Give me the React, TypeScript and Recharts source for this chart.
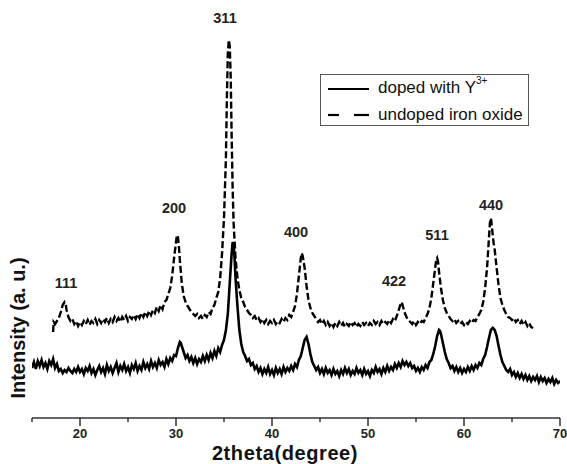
import React from "react";
import { LineChart, Line, XAxis, YAxis } from "recharts";

// doped with Y3+ (solid, lower trace): 2theta (deg) and intensity (a.u.)
const dopedDeg = [
  15.0, 15.2, 15.4, 15.6, 15.8, 16.0, 16.2, 16.4, 16.6, 16.8, 17.0, 17.2, 17.4, 17.6, 17.8, 18.0, 18.2, 18.4, 18.6, 18.8,
  19.0, 19.2, 19.4, 19.6, 19.8, 20.0, 20.2, 20.4, 20.6, 20.8, 21.0, 21.2, 21.4, 21.6, 21.8, 22.0, 22.2, 22.4, 22.6, 22.8,
  23.0, 23.2, 23.4, 23.6, 23.8, 24.0, 24.2, 24.4, 24.6, 24.8, 25.0, 25.2, 25.4, 25.6, 25.8, 26.0, 26.2, 26.4, 26.6, 26.8,
  27.0, 27.2, 27.4, 27.6, 27.8, 28.0, 28.2, 28.4, 28.6, 28.8, 29.0, 29.2, 29.4, 29.6, 29.8, 30.0, 30.2, 30.4, 30.5, 30.6,
  30.8, 31.0, 31.2, 31.4, 31.6, 31.8, 32.0, 32.2, 32.4, 32.6, 32.8, 33.0, 33.2, 33.4, 33.6, 33.8, 34.0, 34.2, 34.4, 34.6,
  34.8, 35.0, 35.2, 35.4, 35.6, 35.8, 35.9, 36.0, 36.1, 36.2, 36.4, 36.6, 36.8, 37.0, 37.2, 37.4, 37.6, 37.8, 38.0, 38.2,
  38.4, 38.6, 38.8, 39.0, 39.2, 39.4, 39.6, 39.8, 40.0, 40.2, 40.4, 40.6, 40.8, 41.0, 41.2, 41.4, 41.6, 41.8, 42.0, 42.2,
  42.4, 42.6, 42.8, 43.0, 43.2, 43.4, 43.6, 43.8, 44.0, 44.2, 44.4, 44.6, 44.8, 45.0, 45.2, 45.4, 45.6, 45.8, 46.0, 46.2,
  46.4, 46.6, 46.8, 47.0, 47.2, 47.4, 47.6, 47.8, 48.0, 48.2, 48.4, 48.6, 48.8, 49.0, 49.2, 49.4, 49.6, 49.8, 50.0, 50.2,
  50.4, 50.6, 50.8, 51.0, 51.2, 51.4, 51.6, 51.8, 52.0, 52.2, 52.4, 52.6, 52.8, 53.0, 53.2, 53.4, 53.6, 53.8, 54.0, 54.2,
  54.4, 54.6, 54.8, 55.0, 55.2, 55.4, 55.6, 55.8, 56.0, 56.2, 56.4, 56.6, 56.8, 57.0, 57.2, 57.4, 57.5, 57.6, 57.8, 58.0,
  58.2, 58.4, 58.6, 58.8, 59.0, 59.2, 59.4, 59.6, 59.8, 60.0, 60.2, 60.4, 60.6, 60.8, 61.0, 61.2, 61.4, 61.6, 61.8, 62.0,
  62.2, 62.4, 62.6, 62.8, 63.0, 63.2, 63.4, 63.6, 63.8, 64.0, 64.2, 64.4, 64.6, 64.8, 65.0, 65.2, 65.4, 65.6, 65.8, 66.0,
  66.2, 66.4, 66.6, 66.8, 67.0, 67.2, 67.4, 67.6, 67.8, 68.0, 68.2, 68.4, 68.6, 68.8, 69.0, 69.2, 69.4, 69.6, 69.8, 70.0,
];
const dopedIntensity = [
  50, 56, 49, 57, 52, 58, 51, 55, 49, 57, 53, 59, 50, 54, 47, 49, 45, 48, 46, 50,
  47, 45, 49, 46, 51, 46, 49, 44, 50, 47, 52, 45, 49, 43, 48, 52, 46, 50, 44, 53,
  47, 51, 45, 50, 55, 46, 52, 48, 54, 47, 51, 45, 53, 49, 55, 47, 52, 48, 56, 50,
  54, 49, 57, 51, 55, 50, 58, 53, 56, 51, 59, 54, 60, 57, 63, 62, 70, 76, 75, 72,
  66, 60, 63, 57, 61, 55, 60, 54, 59, 56, 62, 57, 63, 58, 65, 60, 67, 62, 70, 66,
  73, 78, 88, 104, 135, 165, 176, 172, 160, 140, 112, 88, 74, 66, 62, 57, 59, 53, 55, 49,
  52, 46, 50, 44, 49, 45, 51, 44, 48, 43, 50, 45, 49, 44, 51, 46, 50, 47, 52, 48,
  54, 51, 58, 62, 70, 78, 81, 74, 64, 56, 52, 48, 51, 45, 49, 44, 50, 45, 48, 43,
  49, 44, 47, 42, 48, 44, 50, 45, 49, 43, 47, 44, 50, 45, 48, 43, 49, 44, 47, 42,
  48, 45, 51, 46, 49, 44, 50, 46, 52, 47, 51, 48, 54, 50, 55, 51, 57, 53, 56, 52,
  55, 50, 52, 47, 50, 46, 51, 48, 53, 50, 56, 58, 64, 72, 82, 88, 87, 84, 75, 66,
  59, 55, 50, 52, 47, 51, 46, 50, 45, 49, 46, 51, 47, 52, 48, 53, 50, 55, 53, 59,
  63, 71, 80, 88, 90, 88, 82, 72, 63, 56, 52, 48, 46, 49, 43, 46, 41, 45, 40, 44,
  39, 43, 38, 42, 37, 41, 38, 42, 36, 41, 37, 40, 35, 39, 36, 40, 34, 38, 35, 37,
];

// undoped iron oxide (dashed, upper trace)
const undopedDeg = [
  17.2, 17.25, 17.4, 17.6, 17.8, 18.0, 18.2, 18.4, 18.5, 18.6, 18.8, 19.0, 19.2, 19.4, 19.6, 19.8, 20.0, 20.2, 20.4, 20.6,
  20.8, 21.0, 21.2, 21.4, 21.6, 21.8, 22.0, 22.2, 22.4, 22.6, 22.8, 23.0, 23.2, 23.4, 23.6, 23.8, 24.0, 24.2, 24.4, 24.6,
  24.8, 25.0, 25.2, 25.4, 25.6, 25.8, 26.0, 26.2, 26.4, 26.6, 26.8, 27.0, 27.2, 27.4, 27.6, 27.8, 28.0, 28.2, 28.4, 28.6,
  28.8, 29.0, 29.2, 29.4, 29.6, 29.8, 30.0, 30.1, 30.2, 30.3, 30.4, 30.6, 30.8, 31.0, 31.2, 31.4, 31.6, 31.8, 32.0, 32.2,
  32.4, 32.6, 32.8, 33.0, 33.2, 33.4, 33.6, 33.8, 34.0, 34.2, 34.4, 34.6, 34.8, 35.0, 35.2, 35.3, 35.4, 35.5, 35.6, 35.7,
  35.8, 35.9, 36.0, 36.2, 36.4, 36.6, 36.8, 37.0, 37.2, 37.4, 37.6, 37.8, 38.0, 38.2, 38.4, 38.6, 38.8, 39.0, 39.2, 39.4,
  39.6, 39.8, 40.0, 40.2, 40.4, 40.6, 40.8, 41.0, 41.2, 41.4, 41.6, 41.8, 42.0, 42.2, 42.4, 42.6, 42.8, 43.0, 43.1, 43.2,
  43.4, 43.6, 43.8, 44.0, 44.2, 44.4, 44.6, 44.8, 45.0, 45.2, 45.4, 45.6, 45.8, 46.0, 46.2, 46.4, 46.6, 46.8, 47.0, 47.2,
  47.4, 47.6, 47.8, 48.0, 48.2, 48.4, 48.6, 48.8, 49.0, 49.2, 49.4, 49.6, 49.8, 50.0, 50.2, 50.4, 50.6, 50.8, 51.0, 51.2,
  51.4, 51.6, 51.8, 52.0, 52.2, 52.4, 52.6, 52.8, 53.0, 53.2, 53.4, 53.5, 53.6, 53.8, 54.0, 54.2, 54.4, 54.6, 54.8, 55.0,
  55.2, 55.4, 55.6, 55.8, 56.0, 56.2, 56.4, 56.6, 56.8, 57.0, 57.1, 57.2, 57.3, 57.4, 57.6, 57.8, 58.0, 58.2, 58.4, 58.6,
  58.8, 59.0, 59.2, 59.4, 59.6, 59.8, 60.0, 60.2, 60.4, 60.6, 60.8, 61.0, 61.2, 61.4, 61.6, 61.8, 62.0, 62.2, 62.4, 62.6,
  62.7, 62.8, 62.9, 63.0, 63.1, 63.2, 63.4, 63.6, 63.8, 64.0, 64.2, 64.4, 64.6, 64.8, 65.0, 65.2, 65.4, 65.6, 65.8, 66.0,
  66.2, 66.4, 66.6, 66.8, 67.0, 67.2,
];
const undopedIntensity = [
  86, 96, 94, 97, 100, 106, 113, 116, 115, 108, 101, 97, 99, 94, 97, 92, 96, 93, 97, 94,
  98, 93, 97, 95, 99, 94, 98, 95, 99, 96, 100, 95, 99, 96, 101, 97, 100, 96, 101, 98,
  102, 97, 101, 99, 103, 99, 104, 100, 105, 101, 106, 102, 107, 103, 108, 105, 111, 107, 113, 109,
  116, 118, 124, 130, 142, 160, 176, 183, 181, 172, 158, 135, 122, 116, 112, 109, 106, 104, 102, 104,
  100, 102, 99, 103, 101, 106, 104, 110, 113, 120, 126, 140, 165, 200, 260, 320, 365, 378, 372, 340,
  280, 230, 195, 160, 140, 128, 120, 116, 111, 108, 105, 103, 100, 102, 98, 100, 96, 99, 95, 98,
  94, 97, 95, 98, 94, 97, 95, 99, 96, 100, 98, 103, 101, 106, 112, 124, 142, 160, 165, 162,
  150, 132, 118, 110, 105, 102, 99, 96, 98, 94, 97, 93, 96, 92, 95, 91, 95, 92, 96, 92,
  95, 91, 94, 92, 96, 93, 95, 91, 94, 92, 96, 93, 95, 92, 95, 93, 97, 94, 96, 93,
  97, 94, 96, 94, 98, 95, 99, 97, 102, 108, 114, 116, 113, 106, 101, 98, 96, 94, 97, 93,
  96, 94, 97, 96, 100, 104, 110, 120, 135, 150, 158, 160, 156, 146, 130, 118, 110, 105, 102, 99,
  97, 99, 95, 97, 94, 96, 93, 96, 94, 97, 95, 98, 97, 101, 104, 108, 116, 130, 150, 180,
  195, 200, 192, 182, 174, 168, 150, 133, 120, 113, 108, 104, 101, 100, 98, 100, 96, 98, 94, 97,
  93, 96, 92, 95, 91, 90,
];

const xTicks = [15, 20, 25, 30, 35, 40, 45, 50, 55, 60, 65, 70];

const peakLabels = ["111", "200", "311", "400", "422", "511", "440"];
const peakLabelPos = [
  [66, 283], [174, 208], [225, 18], [296, 232], [394, 281], [437, 235], [491, 205],
];

const seriesNames = ["doped with Y", "undoped iron oxide"];

const doped = dopedDeg.map((x, i) => ({ x, y: dopedIntensity[i] }));
const undoped = undopedDeg.map((x, i) => ({ x, y: undopedIntensity[i] }));

const FONT = '"Liberation Sans", Arial, sans-serif';

const Tick = (props: any) => {
  const { x, y, payload } = props;
  const major = payload.value % 10 === 0;
  return (
    <g>
      <line x1={x} y1={y} x2={x} y2={y + (major ? 8 : 4)} stroke="#333" strokeWidth={1.5} />
      {major && (
        <text x={x} y={y + 20} textAnchor="middle" fontFamily={FONT} fontWeight="bold" fontSize={13} fill="#222">
          {payload.value}
        </text>
      )}
    </g>
  );
};

export default function App() {
  return (
    <div style={{ position: "absolute", left: 0, top: 0, width: 567, height: 464, background: "#fff", fontFamily: FONT }}>
      <LineChart width={567} height={464} margin={{ top: 20, right: 7, left: 32, bottom: 0 }}>
        <XAxis
          dataKey="x"
          type="number"
          domain={[15, 70]}
          ticks={xTicks}
          interval={0}
          height={46}
          tickSize={0}
          tickMargin={0}
          tickLine={false}
          axisLine={{ stroke: "#333", strokeWidth: 1.5 }}
          tick={<Tick />}
          allowDataOverflow
        />
        <YAxis hide type="number" domain={[0, 398]} />
        <Line
          data={undoped}
          dataKey="y"
          stroke="#000"
          strokeWidth={2.4}
          strokeDasharray="7 3"
          dot={false}
          isAnimationActive={false}
          type="linear"
        />
        <Line
          data={doped}
          dataKey="y"
          stroke="#000"
          strokeWidth={2.6}
          dot={false}
          isAnimationActive={false}
          type="linear"
        />
      </LineChart>

      {peakLabels.map((t, i) => (
        <div
          key={t}
          style={{
            position: "absolute",
            left: peakLabelPos[i][0],
            top: peakLabelPos[i][1],
            transform: "translate(-50%, -50%)",
            fontWeight: "bold",
            fontSize: 14.5,
            lineHeight: 1,
            color: "#222",
          }}
        >
          {t}
        </div>
      ))}

      <div
        style={{
          position: "absolute",
          left: 285,
          top: 452.6,
          transform: "translate(-50%, -50%)",
          fontWeight: "bold",
          fontSize: 20,
          letterSpacing: 0.6,
          lineHeight: 1,
          whiteSpace: "nowrap",
          color: "#111",
        }}
      >
        2theta(degree)
      </div>

      <div
        style={{
          position: "absolute",
          left: 18,
          top: 328,
          transform: "translate(-50%, -50%) rotate(-90deg)",
          fontWeight: "bold",
          fontSize: 20,
          lineHeight: 1,
          whiteSpace: "nowrap",
          color: "#111",
        }}
      >
        Intensity (a. u.)
      </div>

      <div
        style={{
          position: "absolute",
          left: 320,
          top: 74,
          width: 209,
          height: 52,
          border: "1px solid #555",
          boxSizing: "border-box",
          background: "#fff",
        }}
      >
        <svg width={50} height={51} style={{ position: "absolute", left: 0, top: 0 }}>
          <line x1={7} y1={14} x2={48} y2={14} stroke="#000" strokeWidth={2.2} />
          <line x1={7} y1={40} x2={18} y2={40} stroke="#000" strokeWidth={2.2} />
          <line x1={33} y1={40} x2={48} y2={40} stroke="#000" strokeWidth={2.2} />
        </svg>
        <div style={{ position: "absolute", left: 57, top: 4, fontSize: 17, lineHeight: 1, whiteSpace: "nowrap", color: "#111" }}>
          {seriesNames[0]}
          <sup style={{ fontSize: 10, verticalAlign: "top", position: "relative", top: -3 }}>3+</sup>
        </div>
        <div style={{ position: "absolute", left: 57, top: 31, fontSize: 17, lineHeight: 1, whiteSpace: "nowrap", color: "#111" }}>
          {seriesNames[1]}
        </div>
      </div>
    </div>
  );
}
